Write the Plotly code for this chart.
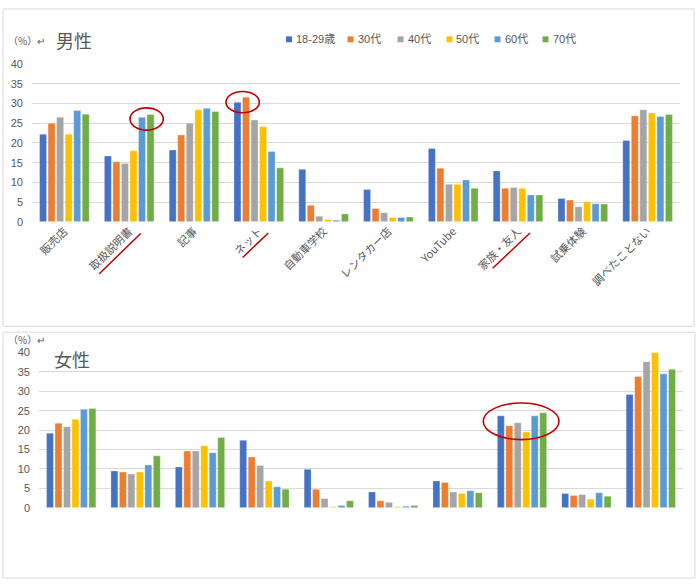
import plotly.graph_objects as go

categories = ["販売店", "取扱説明書", "記事", "ネット", "自動車学校", "レンタカー店",
              "YouTube", "家族・友人", "試乗体験", "調べたことない"]
series_names = ["18-29歳", "30代", "40代", "50代", "60代", "70代"]
colors = ["#4472C4", "#ED7D31", "#A5A5A5", "#FFC000", "#5B9BD5", "#70AD47"]

male_1829 = [22.2, 16.7, 18.2, 30.3, 13.3, 8.2, 18.6, 12.9, 5.9, 20.6]
male_30 = [25.0, 15.2, 22.0, 31.6, 4.2, 3.4, 13.6, 8.5, 5.5, 26.9]
male_40 = [26.5, 14.8, 25.0, 25.8, 1.4, 2.3, 9.5, 8.7, 3.8, 28.4]
male_50 = [22.2, 18.0, 28.4, 24.2, 0.6, 1.1, 9.5, 8.5, 5.1, 27.6]
male_60 = [28.2, 26.5, 28.8, 17.8, 0.4, 1.1, 10.6, 6.8, 4.6, 26.7]
male_70 = [27.3, 27.2, 28.0, 13.7, 2.0, 1.2, 8.5, 6.8, 4.5, 27.2]

female_1829 = [19.2, 9.5, 10.5, 17.4, 9.9, 4.1, 6.9, 23.7, 3.7, 29.2]
female_30 = [21.8, 9.2, 14.6, 13.1, 4.8, 1.8, 6.5, 21.1, 3.2, 33.8]
female_40 = [20.9, 8.7, 14.6, 10.9, 2.4, 1.4, 4.1, 21.9, 3.4, 37.6]
female_50 = [22.8, 9.2, 16.0, 6.9, 0.3, 0.3, 3.7, 19.5, 2.2, 40.0]
female_60 = [25.4, 11.0, 14.2, 5.4, 0.6, 0.4, 4.4, 23.7, 3.9, 34.5]
female_70 = [25.6, 13.4, 18.1, 4.8, 1.8, 0.6, 3.9, 24.5, 3.0, 35.7]

y_ticks = [0, 5, 10, 15, 20, 25, 30, 35, 40]

male = [male_1829, male_30, male_40, male_50, male_60, male_70]
female = [female_1829, female_30, female_40, female_50, female_60, female_70]

W, H = 700, 586
def px(x):
    return x / W
def py(y):
    return 1 - y / H

fig = go.Figure()
for name, col, vals in zip(series_names, colors, male):
    fig.add_trace(go.Bar(x=categories, y=vals, name=name, marker_color=col,
                         marker_line=dict(color="rgba(255,255,255,0.5)", width=0.6),
                         xaxis="x", yaxis="y", legendgroup=name, showlegend=False))
for name, col, vals in zip(series_names, colors, female):
    fig.add_trace(go.Bar(x=categories, y=vals, name=name, marker_color=col,
                         marker_line=dict(color="rgba(255,255,255,0.5)", width=0.6),
                         xaxis="x2", yaxis="y2", legendgroup=name, showlegend=False))

tickfont = dict(family="Liberation Sans, Arial, sans-serif", size=11, color="#595959")
catfont = dict(family="Noto Sans CJK JP, sans-serif", size=11, color="#595959")
grid = "#D9D9D9"

fig.update_layout(
    width=W, height=H, autosize=False,
    margin=dict(l=0, r=0, t=0, b=0),
    paper_bgcolor="white", plot_bgcolor="white",
    barmode="group", bargap=0.21, bargroupgap=0.18,
    showlegend=False,
    xaxis=dict(domain=[px(32), px(680)], anchor="y", tickangle=-45, tickfont=catfont,
               showgrid=False, showline=False, ticks="", zeroline=False),
    yaxis=dict(domain=[py(220.3), py(59.3)], anchor="x", range=[0, 40], tickvals=y_ticks,
               tickfont=tickfont, showgrid=True, gridcolor=grid, gridwidth=1,
               zeroline=False, ticklabelstandoff=8),
    xaxis2=dict(domain=[px(39), px(683)], anchor="y2", showticklabels=False,
                showgrid=False, showline=False, ticks="", zeroline=False),
    yaxis2=dict(domain=[py(512.3), py(353.7)], anchor="x2", range=[0, 40], tickvals=y_ticks,
                tickfont=tickfont, showgrid=True, gridcolor=grid, gridwidth=1,
                zeroline=False, ticklabelstandoff=8),
)

shapes = [
    dict(type="rect", xref="paper", yref="paper", x0=px(3), x1=px(694), y0=py(327), y1=py(3),
         line=dict(color=grid, width=1), layer="below"),
    dict(type="rect", xref="paper", yref="paper", x0=px(3), x1=px(695), y0=py(584), y1=py(333),
         line=dict(color=grid, width=1), layer="below"),
]
red = "#C00000"
for (x0, y0, x1, y1) in [(130, 104, 163.3, 126.7), (226, 87.3, 259.3, 109), (483.3, 405.3, 559, 442.7)]:
    shapes.append(dict(type="circle", xref="paper", yref="paper", x0=px(x0), x1=px(x1),
                       y0=py(y1), y1=py(y0), line=dict(color=red, width=1.6)))
for (x0, y0, x1, y1) in [(99.3, 273.3, 140.7, 232.3), (242.7, 256.7, 268.3, 231.7), (492.7, 267.7, 530, 231.7)]:
    shapes.append(dict(type="line", xref="paper", yref="paper", x0=px(x0), x1=px(x1),
                       y0=py(y0), y1=py(y1), line=dict(color=red, width=1.5)))

# legend (drawn manually to match the compact spacing of the original)
legend_x = [289, 350.5, 400.5, 449.5, 497.5, 545.5]
legend_y = 34
annots = []
for name, col, lx in zip(series_names, colors, legend_x):
    shapes.append(dict(type="rect", xref="paper", yref="paper",
                       x0=px(lx - 3), x1=px(lx + 3), y0=py(legend_y + 3), y1=py(legend_y - 3),
                       fillcolor=col, line=dict(width=0)))
    annots.append(dict(text=name, x=px(lx + 5), y=py(legend_y), size=11,
                       family="Liberation Sans, Noto Sans CJK JP, sans-serif"))
fig.update_layout(shapes=shapes)

annots += [
    dict(text="（%）↵", x=px(6), y=py(35), size=10, family="Noto Sans CJK JP, sans-serif"),
    dict(text="男性", x=px(54), y=py(35), size=18, family="Noto Sans CJK JP, sans-serif"),
    dict(text="（%）↵", x=px(6), y=py(340), size=10, family="Noto Sans CJK JP, sans-serif"),
    dict(text="女性", x=px(52), y=py(360), size=18, family="Noto Sans CJK JP, sans-serif"),
]
for a in annots:
    fig.add_annotation(text=a["text"], x=a["x"], y=a["y"], xref="paper", yref="paper",
                       xanchor="left", yanchor="middle", showarrow=False,
                       font=dict(family=a["family"], size=a["size"], color="#595959"))

post = (
    "document.documentElement.style.margin='0';"
    "document.documentElement.style.padding='0';"
    "document.documentElement.style.overflow='hidden';"
    "document.body.style.margin='0';"
    "document.body.style.padding='0';"
    "document.body.style.overflow='hidden';"
    "var gd=document.getElementById('{plot_id}');"
    "gd.style.position='fixed';gd.style.left='0px';gd.style.top='0px';"
)
fig.write_html("out.html", config={"displayModeBar": False}, post_script=post)
